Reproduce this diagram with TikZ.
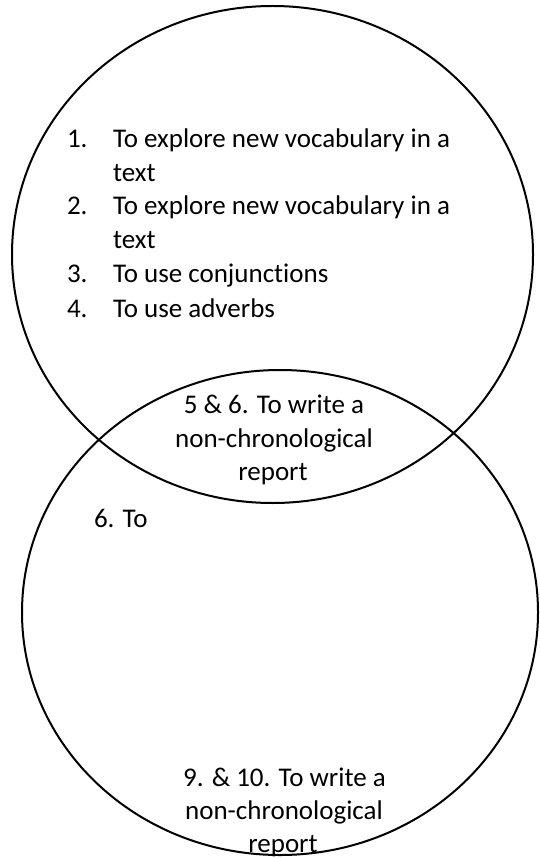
\documentclass[tikz,border=0pt]{standalone}
\usepackage{fontspec}
\setmainfont[Ligatures={NoCommon,NoRare}]{Carlito}
\usetikzlibrary{shapes.geometric}
\begin{document}
\begin{tikzpicture}[x=1pt,y=-1pt,
  ring/.style={draw=black, line width=2pt, ellipse, inner sep=0pt, outer sep=0pt},
  txt/.style={inner sep=0pt, outer sep=0pt, font=\fontsize{27pt}{33.5pt}\selectfont, text=black},
  lw/.style={txt, anchor=base west},
  ctr/.style={txt, anchor=base}]
\useasboundingbox (0,0) rectangle (539,858);
\node[ring, minimum width=521pt, minimum height=497pt] (upper) at (272.5,254.5) {};
\node[ring, minimum width=516pt, minimum height=485pt] (lower) at (280,612.5) {};
% list in the upper ellipse
\node[lw] (n1) at (67,148) {1.};
\node[lw] (t1) at (113,148) {To explore new vocabulary in a};
\node[lw] (t1b) at (113,182) {text};
\node[lw] (n2) at (67,215) {2.};
\node[lw] (t2) at (113,215) {To explore new vocabulary in a};
\node[lw] (t2b) at (113,249) {text};
\node[lw] (n3) at (67,283) {3.};
\node[lw] (t3) at (113,283) {To use conjunctions};
\node[lw] (n4) at (67,317) {4.};
\node[lw] (t4) at (113,317) {To use adverbs};
% overlap
\node[ctr] (o1) at (274,413) {5 \& 6. To write a};
\node[ctr] (o2) at (274,447) {non-chronological};
\node[ctr] (o3) at (273,480) {report};
% lower ellipse
\node[lw] (l1) at (94,527) {6. To};
\node[ctr] (b1) at (284.5,786) {9. \& 10. To write a};
\node[ctr] (b2) at (284,819) {non-chronological};
\node[ctr] (b3) at (283,852) {report};
\end{tikzpicture}
\end{document}
